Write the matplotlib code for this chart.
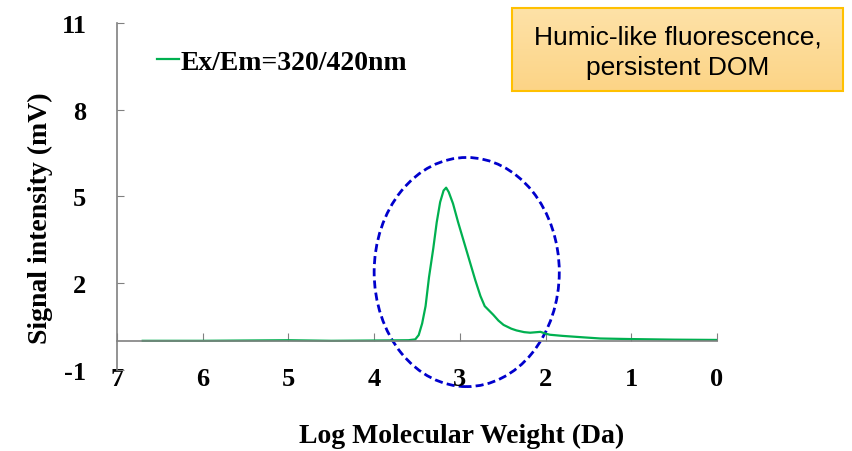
import matplotlib

matplotlib.use("Agg")
import matplotlib.pyplot as plt
import numpy as np
from matplotlib.patches import Ellipse, Rectangle

# SEC chromatogram, humic-like fluorescence channel
log_mw = [6.70, 6.00, 5.00, 4.50, 4.00, 3.60, 3.52, 3.48, 3.44, 3.40, 3.36,
          3.31, 3.27, 3.23, 3.19, 3.16, 3.13, 3.08, 3.02, 2.96, 2.89, 2.82,
          2.76, 2.71, 2.66, 2.61, 2.55, 2.49, 2.40, 2.34, 2.25, 2.18, 2.10,
          2.06, 2.00, 1.95, 1.80, 1.56, 1.36, 1.00, 0.50, 0.00]
signal_mv = [0.00, 0.00, 0.02, 0.00, 0.01, 0.02, 0.05, 0.20, 0.60, 1.20, 2.20,
             3.20, 4.10, 4.80, 5.20, 5.30, 5.15, 4.75, 4.10, 3.50, 2.80, 2.10,
             1.55, 1.20, 1.05, 0.90, 0.70, 0.55, 0.42, 0.36, 0.30, 0.28, 0.30,
             0.31, 0.25, 0.21, 0.17, 0.12, 0.08, 0.06, 0.04, 0.03]

x_ticks = [7, 6, 5, 4, 3, 2, 1, 0]
y_ticks = [-1, 2, 5, 8, 11]
series_label = "Ex/Em=320/420nm"
note_text = "Humic-like fluorescence,\npersistent DOM"
x_title = "Log Molecular Weight (Da)"
y_title = "Signal intensity (mV)"

# highlighted region (centre, width, height) in data units
region_center = (2.92, 2.38)
region_size = (2.16, 7.93)

W, H = 853, 452
serif_bold = dict(family="Liberation Serif", weight="bold")
axis_grey = "#808080"
plt.rcParams["axes.unicode_minus"] = False

fig = plt.figure(figsize=(W / 100, H / 100), dpi=100)
ax = fig.add_axes([117 / W, 1 - 370.7 / H, 600 / W, 346.7 / H])

ax.plot(log_mw, signal_mv, color="#00B050", lw=1.6, label=series_label)
ax.set_xlim(7, 0)
ax.set_ylim(-1, 11)
ax.set_xticks(x_ticks)
ax.set_yticks(y_ticks)

for side in ("top", "right"):
    ax.spines[side].set_visible(False)
ax.spines["left"].set_color(axis_grey)
ax.spines["bottom"].set_color(axis_grey)
ax.spines["bottom"].set_position(("data", 0))
ax.spines["left"].set_linewidth(1.2)
ax.spines["bottom"].set_linewidth(1.2)

ax.tick_params(axis="y", direction="in", length=5, color=axis_grey, pad=22)
ax.tick_params(axis="x", direction="in", length=6, color=axis_grey, pad=19)
tick_font = matplotlib.font_manager.FontProperties(size=19, **serif_bold)
for lab in ax.get_xticklabels() + ax.get_yticklabels():
    lab.set_fontproperties(tick_font)

ax.add_patch(Ellipse(region_center, region_size[0], region_size[1], fill=False,
                     edgecolor="#0000CC", lw=2.0, linestyle=(0, (2.9, 1.5)),
                     clip_on=False))

ax.legend(loc="center left", bbox_to_anchor=(157 / W, 1 - 63 / H),
          bbox_transform=fig.transFigure, frameon=False, handlelength=0.8,
          handletextpad=0.05, borderpad=0, borderaxespad=0,
          prop=dict(size=20, **serif_bold))

fig.text(40 / W, 1 - 218 / H, y_title, rotation=90, ha="center", va="center",
         fontsize=20, **serif_bold)
fig.text(462 / W, 1 - 436 / H, x_title, ha="center", va="center",
         fontsize=20, **serif_bold)

# annotation box with soft vertical gradient
box_l, box_t, box_r, box_b = 512, 8.5, 843, 92
box_ax = fig.add_axes([box_l / W, 1 - box_b / H, (box_r - box_l) / W, (box_b - box_t) / H])
grad = np.linspace(0, 1, 64).reshape(-1, 1)
top_c = np.array([254, 226, 168]) / 255
bot_c = np.array([252, 212, 134]) / 255
img = top_c + grad[..., None] * (bot_c - top_c)
box_ax.imshow(img, aspect="auto", extent=(0, 1, 0, 1), origin="upper")
box_ax.add_patch(Rectangle((0, 0), 1, 1, transform=box_ax.transAxes, fill=False,
                           edgecolor="#FFC000", lw=1.5, clip_on=False))
box_ax.set_axis_off()
box_ax.text(0.5, 0.47, note_text, ha="center", va="center", fontsize=19,
            family="Liberation Sans", linespacing=1.33, transform=box_ax.transAxes)

fig.savefig("out.png", dpi=100)
